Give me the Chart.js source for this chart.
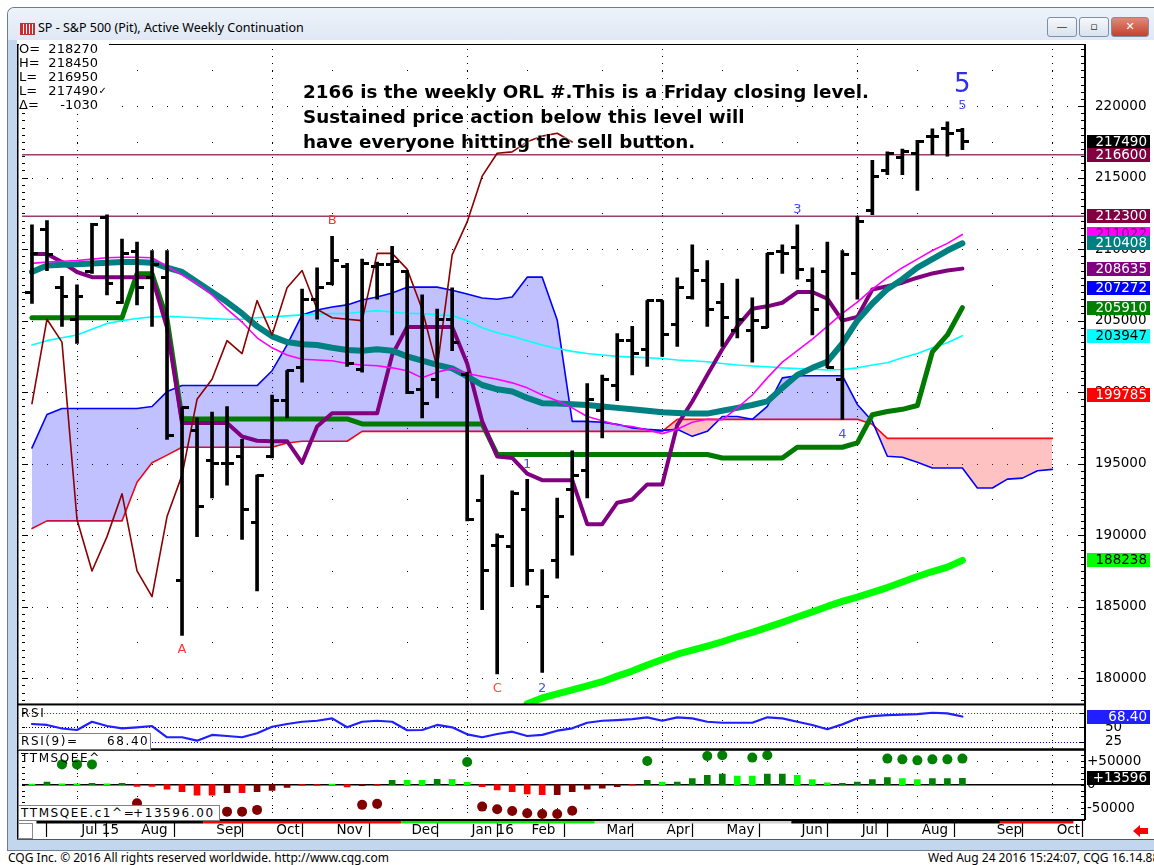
<!DOCTYPE html>
<html lang="en">
<head>
<meta charset="UTF-8">
<meta name="viewport" content="width=device-width, initial-scale=1.0">
<title>SP - S&amp;P 500 (Pit), Active Weekly Continuation</title>
<script src="https://cdn.jsdelivr.net/npm/chart.js"></script>
<style>
  body { margin: 0; width: 1154px; height: 865px; overflow: hidden; position: relative; background: #fff; font-family: "DejaVu Sans", sans-serif; color: #000; }
  #win { position: absolute; left: 7px; top: 7px; width: 1170px; height: 842px; border: 1px solid #6e7e91; border-right: none; border-radius: 7px 0 0 0; background: #c2d7ee; }
  #titlebar { position: absolute; left: 8px; top: 8px; width: 1146px; height: 32px; background: linear-gradient(#eef3fa, #dfe8f4); border-radius: 6px 0 0 0; }
  #title { position: absolute; left: 38px; top: 20px; font: 12.5px "Noto Sans", sans-serif; line-height: 16px; white-space: nowrap; }
  #icon { position: absolute; left: 20px; top: 23px; width: 13px; height: 10px; background: repeating-linear-gradient(90deg, #d42a2a 0 2px, #fff 2px 3px); border: 1px solid #b33; }
  .wbtn { position: absolute; top: 17px; height: 18px; border: 1px solid #7d8fa6; border-radius: 3px; background: linear-gradient(#f6f8fb, #d9e2ee); font: 11px "DejaVu Sans", sans-serif; text-align: center; line-height: 18px; color: #333; }
  #plotwrap { position: absolute; left: 17px; top: 40px; width: 1137px; height: 800px; }
  #ohlc { position: absolute; left: 19px; top: 42px; width: 90px; height: 70px; background: #fff; font-size: 13px; }
  #ohlc div { position: absolute; left: 0; width: 79px; height: 14px; line-height: 14px; }
  #ohlc span { position: absolute; right: 0; }
  #ohlc span.chk { right: -9px; font-size: 10px; }
  #note { position: absolute; left: 303px; top: 79px; font: bold 18.3px "DejaVu Sans", sans-serif; line-height: 25px; white-space: pre; text-shadow: 0 0 2px #fff, 0 0 2px #fff; }
  .lbl { position: absolute; font-size: 12px; letter-spacing: 1.6px; white-space: pre; line-height: 14px; }
  .box { position: absolute; border: 1px solid #808080; background: #fff; }
  .foot { position: absolute; top: 850px; font: 12px "Noto Sans", sans-serif; line-height: 16px; white-space: nowrap; }
</style>
</head>
<body>
<div id="win"></div>
<div id="titlebar"></div>
<div id="icon"></div>
<div id="title">SP - S&amp;P 500 (Pit), Active Weekly Continuation</div>
<div class="wbtn" style="left:1047px; width:28px;">&#8212;</div>
<div class="wbtn" style="left:1079px; width:28px;">&#9643;</div>
<div class="wbtn" style="left:1111px; width:36px; background:linear-gradient(#e08a7a,#c4412c); color:#fff; font-weight:bold;">&#10005;</div>

<div id="plotwrap"><canvas id="chart" width="1137" height="800"></canvas></div>

<div id="ohlc">
  <div style="top:0">O=<span>218270</span></div>
  <div style="top:14px">H=<span>218450</span></div>
  <div style="top:28px">L=<span>216950</span></div>
  <div style="top:42px">L=<span>217490</span><span class="chk">&#10003;</span></div>
  <div style="top:56px">&#916;=<span>-1030</span></div>
</div>

<div id="note">2166 is the weekly ORL #.This is a Friday closing level.
Sustained price action below this level will
have everyone hitting the sell button.</div>

<div class="lbl" style="left:21px; top:706px;">RSI</div>
<div class="box" style="left:18px; top:733px; width:131px; height:15px;"></div>
<div class="lbl" style="left:21px; top:734px;">RSI(9)=</div>
<div class="lbl" style="left:107px; top:734px;">68.40</div>
<div class="lbl" style="left:21px; top:751px;">TTMSQEE^</div>
<div class="box" style="left:18px; top:805px; width:200px; height:14px;"></div>
<div class="lbl" style="left:21px; top:806px;">TTMSQEE.c1^=</div>
<div class="lbl" style="left:133px; top:806px;">+13596.00</div>

<div class="foot" style="left:8px;">CQG Inc. &copy; 2016 All rights reserved worldwide. http://www.cqg.com</div>
<div class="foot" style="left:928px;">Wed Aug 24 2016 15:24:07, CQG 16.14.88</div>

<script>
// weekly bars, index 0 = week of 15 Jun 2015, index 62 = week of 22 Aug 2016
const monthTicks = [3, 7, 12, 16, 20, 25, 29, 33, 38, 42, 46, 51, 55, 59, 64, 68];
const monthLabels = ['Jul 15', 'Aug', 'Sep', 'Oct', 'Nov', 'Dec', 'Jan 16', 'Feb', 'Mar', 'Apr', 'May', 'Jun', 'Jul', 'Aug', 'Sep', 'Oct'];
const quarterTicks = [3, 16, 29, 42, 55, 68];
const priceTicks = [180000, 185000, 190000, 195000, 200000, 205000, 210000, 215000, 220000];
const rsiTicks = [50, 25];
const ttmTicks = [50000, 0, -50000];

const opens = [207000, 211400, 207300, 205100, 208400, 212200, 206300, 209800, 208000, 208000,
  186800, 197300, 195200, 195000, 195500, 190900, 195500, 199400, 201700, 206500,
  207600, 208800, 201600, 208800, 208900, 208400, 200200, 200900, 205100, 201200,
  192400, 189300, 189200, 191800, 185000, 188200, 193200, 194500, 198700, 200500,
  203600, 203000, 206400, 204700, 206600, 207800, 206300, 204300, 204300, 204500,
  209800, 210100, 207800, 208400, 200900, 208300, 212700, 215500, 216400, 216700,
  217900, 218400, 218270];
const highs = [211700, 212000, 208100, 207500, 211800, 212400, 210700, 210500, 209900, 209900,
  198900, 198200, 198600, 199000, 196700, 194200, 199800, 201500, 207200, 208700,
  210900, 209000, 209300, 209100, 210200, 208500, 206800, 205800, 207300, 201400,
  194200, 190100, 193100, 193900, 187600, 192600, 195900, 200600, 201200, 204100,
  204600, 206400, 206400, 208000, 210300, 209200, 207600, 207900, 206600, 209700,
  210300, 211700, 208700, 210500, 209900, 212300, 216200, 216800, 217000, 217600,
  218400, 218900, 218450];
const lows = [206200, 208500, 204600, 203400, 208300, 206800, 206200, 206100, 204600, 196700,
  183000, 189900, 192600, 193500, 189700, 186100, 195400, 198200, 200700, 205100,
  207500, 201800, 201400, 206500, 204000, 199900, 198200, 199600, 202900, 191000,
  184800, 180300, 186400, 186500, 180400, 187000, 188600, 192600, 196800, 199400,
  201200, 201800, 202500, 203200, 206500, 204600, 203200, 203800, 202100, 204500,
  208300, 207900, 204000, 201700, 198100, 206500, 212400, 215200, 215200, 214100,
  216600, 216500, 216950];
const closes = [209700, 209600, 206700, 206700, 211700, 207600, 209700, 207300, 208900, 197000,
  198900, 192000, 195000, 195000, 191800, 194200, 199400, 201500, 206500, 207300,
  209200, 202000, 209000, 208900, 209100, 200000, 199200, 205100, 203500, 191100,
  187500, 189900, 192900, 187500, 185700, 191300, 194200, 199500, 200900, 203600,
  202700, 206400, 204000, 207300, 208500, 205800, 205200, 205100, 205000, 209700,
  209700, 208600, 205800, 201700, 209600, 211900, 215100, 216700, 216800, 217500,
  217900, 218100, 217490];

// lagging span, drawn from index 0 to 36
const lagging = [199200, 205100, 203500, 191100, 187500, 189900, 192900, 187500, 185700, 191300,
  194200, 199500, 200900, 203600, 202700, 206400, 204000, 207300, 208500, 205800,
  205200, 205100, 205000, 209700, 209700, 208600, 205800, 201700, 209600, 211900,
  215100, 216700, 216800, 217500, 217900, 218100, 217490];
const tealAvg = [208400, 208850, 208900, 208950, 209000, 209050, 209100, 209100, 209050, 208700,
  208400, 207700, 207000, 206300, 205500, 204600, 203900, 203500, 203350, 203300,
  203100, 202950, 202900, 203000, 202900, 202500, 202200, 201900, 201660, 201100,
  200500, 200200, 200040, 199600, 199230, 199200, 199150, 199100, 199000, 198900,
  198800, 198700, 198600, 198550, 198500, 198500, 198700, 198900, 199100, 199350,
  200300, 201200, 201700, 202130, 203400, 205000, 206200, 207200, 207900, 208700,
  209300, 209900, 210408];
const magentaAvg = [209000, 209100, 209150, 209200, 209300, 209400, 209430, 209430, 209400, 208800,
  208200, 207600, 206800, 205800, 204900, 203800, 203100, 202600, 202300, 202250,
  202200, 202000, 201900, 201850, 201700, 201500, 201000, 201400, 201660, 201300,
  201100, 200900, 200650, 200300, 199800, 199400, 198900, 198300, 198000, 197700,
  197600, 197350, 197100, 197400, 197900, 198100, 198070, 198900, 199800, 201000,
  202100, 202900, 203700, 204600, 205500, 206300, 207200, 208000, 208700, 209300,
  209900, 210400, 211022];
const conversion = [209660, 209660, 209100, 208400, 208040, 208040, 208040, 208040, 208040, 204500,
  197850, 197850, 197850, 197850, 196900, 196600, 196570, 196570, 195060, 197600,
  198530, 198530, 198530, 198530, 202600, 204560, 204560, 204560, 204560, 202000,
  197960, 195500, 195400, 194300, 193850, 193850, 193850, 190770, 190770, 192270,
  192500, 193550, 193550, 197700, 199350, 201200, 203000, 204600, 205830, 206000,
  206250, 207000, 207000, 206530, 205000, 205260, 207180, 207400, 207650, 208000,
  208300, 208500, 208635];
const baseLine = [205200, 205200, 205200, 205200, 205200, 205200, 205200, 208270, 208270, 205100,
  198150, 198130, 198130, 198130, 198130, 198130, 198130, 198130, 198130, 198130,
  198130, 198130, 197780, 197780, 197780, 197780, 197780, 197780, 197780, 197780,
  197780, 195640, 195640, 195640, 195640, 195640, 195640, 195640, 195640, 195640,
  195640, 195640, 195640, 195640, 195640, 195640, 195400, 195400, 195400, 195400,
  195400, 196150, 196150, 196150, 196150, 196450, 198420, 198650, 198800, 199070,
  202820, 204000, 205910];
const cyanAvg = [203300, 203600, 203800, 204000, 204400, 204800, 205000, 205150, 205260, 205300,
  205250, 205200, 205150, 205100, 205100, 205200, 205260, 205330, 205400, 205450,
  205500, 205500, 205600, 205700, 205600, 205500, 205500, 205400, 205350, 205000,
  204500, 204150, 203900, 203600, 203300, 203050, 202850, 202700, 202600, 202500,
  202450, 202400, 202350, 202250, 202200, 202130, 202000, 201900, 201830, 201780,
  201700, 201650, 201600, 201550, 201580, 201700, 201900, 202050, 202400, 202700,
  203100, 203450, 203947];
// long average, drawn from index 33 to 62
const limeStart = 33;
const limeAvg = [178220, 178620, 178900, 179180, 179460, 179760, 180150, 180500, 180920, 181310,
  181680, 181960, 182240, 182550, 182900, 183210, 183560, 183910, 184280, 184640,
  185020, 185370, 185670, 186000, 186340, 186730, 187110, 187460, 187770, 188238];
// cloud spans, index 0 to 68
const spanA = [196100, 198440, 198860, 198860, 198860, 198860, 198860, 198860, 199000, 200040,
  200460, 200460, 200460, 200460, 200460, 200460, 201500, 203300, 205400, 205740,
  205950, 206100, 206440, 206650, 206930, 207340, 207340, 207340, 207130, 206860,
  206580, 206500, 206650, 208040, 208040, 205050, 197960, 197960, 197900, 197750,
  197500, 197400, 197330, 197400, 196910, 197260, 198300, 198300, 198100, 199000,
  201000, 201150, 201150, 201150, 201150, 199140, 197960, 195520, 195450, 195100,
  194700, 194700, 194700, 193300, 193300, 193920, 193990, 194500, 194600];
const spanB = [190470, 191000, 191000, 191000, 191000, 191000, 191000, 193700, 195060, 195600,
  196150, 196150, 196150, 196150, 196150, 196150, 196150, 196450, 196570, 196570,
  196570, 196570, 197260, 197260, 197260, 197260, 197260, 197260, 197260, 197260,
  197260, 197260, 197260, 197260, 197260, 197260, 197260, 197260, 197260, 197260,
  197260, 197260, 197260, 198100, 198100, 198100, 198100, 198100, 198100, 198100,
  198100, 198100, 198100, 198100, 198100, 198100, 197750, 196770, 196770, 196770,
  196770, 196770, 196770, 196770, 196770, 196770, 196770, 196770, 196770];
const levels = [216600, 212300];

const rsiValues = [55.6, 54, 48, 45.4, 59.5, 52.2, 48.3, 50, 52.2, 33,
  33, 27.2, 37, 35.2, 33, 39.8, 51, 55.6, 59.5, 61.2,
  65.3, 50, 59.5, 61.2, 59.5, 45, 45.4, 54, 50, 38,
  33, 38.6, 42.5, 35.2, 37, 44.2, 48.3, 57.8, 61.2, 62.4,
  64.1, 67, 61.2, 67, 65.3, 59.5, 57.8, 57.8, 57.8, 67,
  65.3, 59.5, 54, 46.6, 55, 65.3, 69.2, 70.9, 71.5, 72.6,
  74.8, 73.8, 68.4];
const ttmHist = [1000, 5400, 1500, 1500, 3000, 1500, 3000, -3600, -3600, -9700,
  -15000, -22500, -22500, -17000, -17000, -15000, -12000, -6000, -1500, -1500,
  1000, -5000, -2000, -1500, 9000, 9000, 9000, 11000, 11000, 5000,
  -4500, -11000, -15000, -19500, -21500, -21500, -15000, -9700, -7400, -4500,
  -1000, 9000, 5400, 5400, 12800, 20000, 22500, 18000, 18000, 22500,
  22500, 20000, 10500, 4000, 3000, 5400, 10500, 15000, 12800, 10500,
  12800, 12800, 13596];
// g bright green, G dark green, r red, R dark red
const ttmTone = 'gGggGgGrrr' + 'rrrRrRRRrr' + 'grRrGggGgg' + 'rrrrrRRRRR' + 'rGgGGGGggG' + 'GgggGGGGgg' + 'GGG';
const greenDotIdx = [2, 3, 4, 29, 41, 45, 46, 48, 49, 57, 58, 59, 60, 61, 62];
const greenDotVal = [42900, 42900, 42900, 47900, 50000, 60700, 62200, 57300, 62200, 55200, 53600, 51500, 53600, 53600, 55200];
const redDotIdx = [7, 13, 14, 15, 22, 23, 30, 31, 32, 33, 34, 35, 36];
const redDotVal = [-39300, -57300, -57300, -53600, -42900, -40800, -46600, -52100, -55800, -60700, -62200, -62200, -55200];

// last-value flags on the price axis
const flagValues = [217490, 216600, 212300, 211022, 210408, 208635, 207272, 205910, 203947, 199785, 188238];
const flagFill = ['#000000', '#800040', '#800040', '#ff00ff', '#008080', '#800080', '#0000ff', '#008000', '#00ffff', '#ff0000', '#00ff00'];
const flagText = ['#ffffff', '#ffffff', '#ffffff', '#800080', '#ffffff', '#ffffff', '#ffffff', '#ffffff', '#000000', '#ffffff', '#000000'];
const rsiLast = 68.40;
const ttmLast = 13596;

// wave labels: text, bar index, price, colour, size
const waveLabels = [
  ['A', 10, 182000, '#ff3333', 13], ['B', 20, 211990, '#ff3333', 13], ['C', 31, 179260, '#ff4a3a', 13],
  ['1', 33, 194930, '#4b4bff', 13], ['2', 34, 179260, '#4b4bff', 13], ['3', 51, 212760, '#4b4bff', 13],
  ['4', 54, 197020, '#4b4bff', 13], ['5', 62, 220000, '#4b4bff', 13], ['5', 62, 221460, '#2f2fe8', 26]
];
// coloured band under the lower panel: from index, to index, colour
const bandFrom = [0.3, 11.4, 24.6, 37.5, 50.6, 64.5];
const bandTo = [11.4, 24.6, 37.5, 50.6, 64.5, 69.4];
const bandColor = ['#000000', '#ff0000', '#00ee00', '#d0d0d0', '#000000', '#ff0000'];

const X_MIN = -0.664, X_MAX = 70.17;
const Y_MIN = 178168, Y_MAX = 224269;

Chart.defaults.font.family = '"DejaVu Sans", sans-serif';
Chart.defaults.color = '#000';

function tickMark(side) {
  const c = document.createElement('canvas');
  c.width = 13; c.height = 3;
  const g = c.getContext('2d');
  g.fillStyle = '#000';
  if (side === 'open') g.fillRect(0, 0, 7, 3); else g.fillRect(6, 0, 7, 3);
  return c;
}
const pts = (arr, start) => arr.map((v, i) => ({ x: i + (start || 0), y: v }));
const toneColor = { g: '#00ff00', G: '#008000', r: '#ff0000', R: '#800000' };

const decor = {
  id: 'decor',
  beforeDraw(chart) {
    const ctx = chart.ctx;
    ctx.save();
    ctx.fillStyle = '#fff';
    ctx.fillRect(0, 0, chart.width, chart.height);
    ctx.restore();
  },
  beforeDatasetsDraw(chart) {
    const { ctx } = chart;
    const { x, y, rsi, ttm } = chart.scales;
    ctx.save();
    const dot = (px, py, c) => { ctx.fillStyle = c || '#000'; ctx.fillRect(Math.round(px), Math.round(py), 1, 1); };
    const barPx = [];
    for (let i = 0; i <= Math.floor(X_MAX); i++) barPx.push(x.getPixelForValue(i));
    const monPx = monthTicks.map(v => x.getPixelForValue(v));
    // price panel grid
    for (let v = 180000; v <= 222500; v += 2500) {
      const py = y.getPixelForValue(v);
      (v % 5000 === 0 ? barPx : monPx).forEach(px => dot(px, py));
    }
    // RSI reference lines
    [[75, '#ff0000'], [50, '#000000'], [25, '#0000ff']].forEach(([v, c]) => {
      const py = rsi.getPixelForValue(v);
      for (let px = x.left + 1; px < x.right; px += 3) dot(px, py, c);
    });
    [62.5, 37.5].forEach(v => { const py = rsi.getPixelForValue(v); monPx.forEach(px => dot(px, py)); });
    // squeeze panel grid
    [50000, -50000].forEach(v => { const py = ttm.getPixelForValue(v); barPx.forEach(px => dot(px, py)); });
    [25000, -25000].forEach(v => { const py = ttm.getPixelForValue(v); monPx.forEach(px => dot(px, py)); });
    ctx.fillStyle = '#000';
    ctx.fillRect(x.left, Math.round(ttm.getPixelForValue(0)) - 1, x.right - x.left, 1.5);
    // quarter separators
    quarterTicks.forEach(q => {
      const px = x.getPixelForValue(q);
      for (let py = y.top + 4; py < ttm.bottom - 1; py += 7.2) dot(px, py);
    });
    ctx.restore();
  },
  afterDatasetsDraw(chart) {
    const { ctx } = chart;
    const { x, y, rsi, ttm } = chart.scales;
    ctx.save();
    ctx.fillStyle = '#000';
    // frame and panel borders
    ctx.fillRect(0, y.top - 1, x.right, 1);
    ctx.fillRect(0, y.top - 1, 1.5, chart.height - y.top);
    ctx.fillRect(0, y.bottom - 1, x.right, 2);
    ctx.fillRect(0, rsi.bottom - 1, x.right, 2.5);
    ctx.fillRect(0, ttm.bottom - 1, x.right, 2);
    ctx.fillRect(x.right - 1, y.top - 1, 2, ttm.bottom - y.top + 1);
    // minor ticks on both sides of the price panel
    for (let v = 178500; v <= 224000; v += 500) {
      const py = Math.round(y.getPixelForValue(v));
      const len = v % 5000 === 0 ? 7 : 4;
      ctx.fillRect(x.right - len, py, len, 1);
      ctx.fillRect(x.left, py, len - 1, 1);
    }
    [75, 50, 25].forEach(v => { const py = Math.round(rsi.getPixelForValue(v)); ctx.fillRect(x.right - 5, py, 5, 1); ctx.fillRect(x.left, py, 3, 1); });
    for (let v = -62500; v <= 62500; v += 12500) {
      const py = Math.round(ttm.getPixelForValue(v));
      ctx.fillRect(x.right - 4, py, 4, 1);
      ctx.fillRect(x.left, py, 3, 1);
    }
    // coloured band and date axis details
    bandFrom.forEach((f, i) => {
      const a = x.getPixelForValue(f), b = x.getPixelForValue(bandTo[i]);
      ctx.fillStyle = bandColor[i];
      ctx.fillRect(a, ttm.bottom + 1, b - a, 2.5);
    });
    ctx.fillStyle = '#555';
    ctx.fillRect(0, chart.height - 1, chart.width, 1);
    ctx.strokeStyle = '#8a8a8a';
    ctx.lineWidth = 1;
    ctx.strokeRect(1.5, ttm.bottom + 3.5, 14, chart.height - ttm.bottom - 5);
    // red scroll arrow
    const ax = x.right + 48, ay = ttm.bottom + 11;
    ctx.fillStyle = '#ff0000';
    ctx.beginPath();
    ctx.moveTo(ax, ay); ctx.lineTo(ax + 7, ay - 6); ctx.lineTo(ax + 7, ay - 3); ctx.lineTo(ax + 15, ay - 3);
    ctx.lineTo(ax + 15, ay + 3); ctx.lineTo(ax + 7, ay + 3); ctx.lineTo(ax + 7, ay + 6); ctx.closePath();
    ctx.fill();
    // wave labels
    ctx.textAlign = 'center';
    ctx.textBaseline = 'middle';
    waveLabels.forEach(([t, i, v, c, s]) => {
      ctx.font = s + 'px "DejaVu Sans", sans-serif';
      ctx.fillStyle = c;
      ctx.fillText(t, x.getPixelForValue(i), y.getPixelForValue(v));
    });
    ctx.restore();
  },
  afterDraw(chart) {
    const { ctx } = chart;
    const { x, y, rsi, ttm } = chart.scales;
    ctx.save();
    ctx.font = '13.5px "DejaVu Sans", sans-serif';
    ctx.textAlign = 'right';
    ctx.textBaseline = 'middle';
    const flag = (py, bg, fg, txt) => {
      ctx.fillStyle = bg;
      ctx.fillRect(x.right + 2, Math.round(py) - 7, 63, 14);
      ctx.fillStyle = fg;
      ctx.fillText(txt, x.right + 62, Math.round(py) + 0.5);
    };
    flagValues.forEach((v, i) => flag(y.getPixelForValue(v), flagFill[i], flagText[i], String(v)));
    flag(rsi.getPixelForValue(rsiLast), '#1f1fff', '#ffffff', rsiLast.toFixed(2));
    flag(ttm.getPixelForValue(ttmLast), '#000000', '#ffffff', '+' + ttmLast);
    ctx.restore();
  }
};

const axisBase = {
  type: 'linear', position: 'right', stack: 'panes', bounds: 'data', offset: false,
  grid: { display: false, drawTicks: false }, border: { display: false },
  afterFit(s) { s.width = 69; s.paddingTop = 0; s.paddingBottom = 0; }
};

const lineSet = (data, color, width, order, axis) => ({
  type: 'line', data, borderColor: color, borderWidth: width, pointRadius: 0, order,
  yAxisID: axis || 'y', borderJoinStyle: 'round', borderCapStyle: 'round', fill: false
});

const datasets = [
  { type: 'bar', data: highs.map((h, i) => ({ x: i, y: [lows[i], h] })), backgroundColor: '#000', barThickness: 3, grouped: false, yAxisID: 'y', order: 0 },
  { type: 'line', data: pts(opens), showLine: false, pointStyle: tickMark('open'), pointRadius: 3, yAxisID: 'y', order: 0 },
  { type: 'line', data: pts(closes), showLine: false, pointStyle: tickMark('close'), pointRadius: 3, yAxisID: 'y', order: 0 },
  lineSet(pts(lagging), '#8b0000', 1.6, 1),
  lineSet(pts(magentaAvg), '#ff00ff', 1.6, 2),
  lineSet(pts(tealAvg), '#008080', 6, 3),
  lineSet(pts(conversion), '#800080', 4, 3),
  lineSet(pts(baseLine), '#007a00', 5, 3),
  lineSet(pts(cyanAvg), '#00ffff', 1.6, 4),
  lineSet(pts(limeAvg, limeStart), '#00ff00', 7, 4),
  lineSet([{ x: X_MIN, y: levels[0] }, { x: X_MAX, y: levels[0] }], '#9b3b6e', 1.5, 5),
  lineSet([{ x: X_MIN, y: levels[1] }, { x: X_MAX, y: levels[1] }], '#9b3b6e', 1.5, 5),
  Object.assign(lineSet(pts(spanA), '#0000ff', 1.6, 8), { fill: { target: 13, above: 'rgba(50,50,255,0.30)', below: 'rgba(255,70,70,0.33)' } }),
  lineSet(pts(spanB), '#ff0000', 1.6, 9),
  lineSet(pts(rsiValues), '#1f1fff', 2.2, 1, 'rsi'),
  { type: 'bar', data: pts(ttmHist), backgroundColor: ttmHist.map((v, i) => toneColor[ttmTone[i]]), barThickness: 6, grouped: false, yAxisID: 'ttm', order: 2 },
  { type: 'line', data: greenDotIdx.map((i, k) => ({ x: i, y: greenDotVal[k] })), showLine: false, pointRadius: 5, pointBorderWidth: 0, pointBackgroundColor: '#008000', yAxisID: 'ttm', order: 1 },
  { type: 'line', data: redDotIdx.map((i, k) => ({ x: i, y: redDotVal[k] })), showLine: false, pointRadius: 5, pointBorderWidth: 0, pointBackgroundColor: '#800000', yAxisID: 'ttm', order: 1 }
];

new Chart(document.getElementById('chart'), {
  type: 'line',
  data: { datasets },
  options: {
    responsive: false,
    animation: false,
    events: [],
    layout: { padding: { left: 2, top: 2, right: 0, bottom: 0 } },
    plugins: { legend: { display: false }, tooltip: { enabled: false } },
    scales: {
      x: {
        type: 'linear', min: X_MIN, max: X_MAX, bounds: 'data', offset: false,
        afterBuildTicks: s => { s.ticks = monthTicks.map(v => ({ value: v })); },
        afterFit: s => { s.height = 20; s.paddingLeft = 0; s.paddingRight = 0; },
        grid: { drawOnChartArea: false, drawTicks: true, tickLength: 17, tickColor: '#000', tickWidth: 1.2 },
        border: { display: false },
        ticks: { autoSkip: false, maxRotation: 0, minRotation: 0, align: 'start', padding: -15, font: { size: 13.5 },
          callback: (v, i) => ' ' + monthLabels[i] }
      },
      y: Object.assign({}, axisBase, {
        stackWeight: 662, min: Y_MIN, max: Y_MAX,
        afterBuildTicks: s => { s.ticks = priceTicks.map(v => ({ value: v })); },
        ticks: { autoSkip: false, padding: 10, font: { size: 13.5 }, callback: v => String(v) }
      }),
      rsi: Object.assign({}, axisBase, {
        stackWeight: 45, min: 12.5, max: 89,
        afterBuildTicks: s => { s.ticks = rsiTicks.map(v => ({ value: v })); },
        ticks: { autoSkip: false, padding: 20, font: { size: 13.5 }, callback: v => String(v) }
      }),
      ttm: Object.assign({}, axisBase, {
        stackWeight: 71, min: -75000, max: 75000,
        afterBuildTicks: s => { s.ticks = ttmTicks.map(v => ({ value: v })); },
        ticks: { autoSkip: false, padding: 2, font: { size: 13.5 }, callback: v => (v > 0 ? '+' + v : String(v)) }
      })
    }
  },
  plugins: [decor]
});
</script>
</body>
</html>
